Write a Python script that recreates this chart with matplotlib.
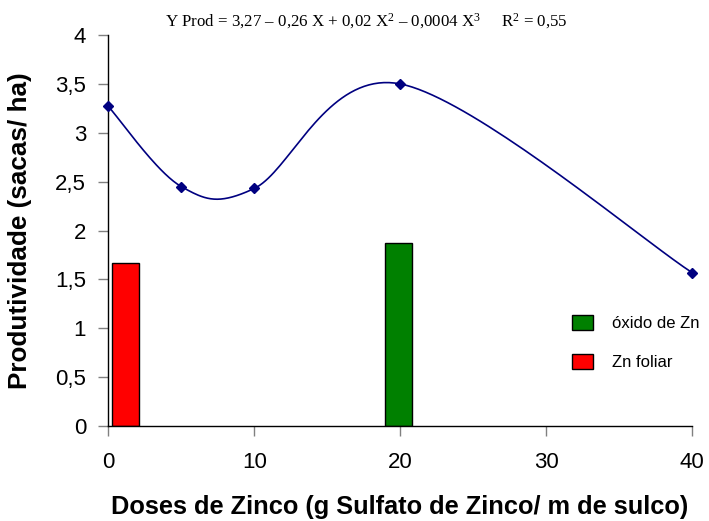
import numpy as np
import matplotlib as mpl
import matplotlib.pyplot as plt
from matplotlib.patches import Patch

# Data
doses = [0, 5, 10, 20, 40]
prod = [3.27, 2.45, 2.43, 3.5, 1.57]

bar_labels = ['óxido de Zn', 'Zn foliar']
bar_x = [19.9, 1.2]
bar_h = [1.87, 1.67]
bar_colors = ['#008000', '#ff0000']

xticks = [0, 10, 20, 30, 40]
yticks = [0, 0.5, 1, 1.5, 2, 2.5, 3, 3.5, 4]
ytick_labels = ['0', '0,5', '1', '1,5', '2', '2,5', '3', '3,5', '4']

equation = ('Y Prod = 3,27 \u2013 0,26 X + 0,02 X$^{2}$ '
            '\u2013 0,0004 X$^{3}$     R$^{2}$ = 0,55')

mpl.rcParams['font.family'] = ['Liberation Sans', 'DejaVu Sans']
mpl.rcParams['mathtext.fontset'] = 'custom'
mpl.rcParams['mathtext.rm'] = 'Liberation Serif'
mpl.rcParams['mathtext.it'] = 'Liberation Serif'


# Smoothed line like a spreadsheet chart (Bezier / Catmull-Rom in screen-like units)
def smooth(xs, ys, sx, sy, n=40):
    px = np.array(xs, float) * sx
    py = np.array(ys, float) * sy
    px = np.concatenate([[px[0]], px, [px[-1]]])
    py = np.concatenate([[py[0]], py, [py[-1]]])
    ox, oy = [], []
    for i in range(1, len(px) - 2):
        p0 = np.array([px[i - 1], py[i - 1]])
        p1 = np.array([px[i], py[i]])
        p2 = np.array([px[i + 1], py[i + 1]])
        p3 = np.array([px[i + 2], py[i + 2]])
        c1 = p1 + (p2 - p0) / 6
        c2 = p2 - (p3 - p1) / 6
        t = np.linspace(0, 1, n)[:, None]
        b = ((1 - t) ** 3) * p1 + 3 * ((1 - t) ** 2) * t * c1 + 3 * (1 - t) * t ** 2 * c2 + t ** 3 * p2
        ox.extend(b[:, 0])
        oy.extend(b[:, 1])
    return np.array(ox) / sx, np.array(oy) / sy


fig = plt.figure(figsize=(7.09, 5.21), dpi=100)
ax = fig.add_axes([0.1527, 0.1823, 0.8233, 0.7505])

# bars
for lab, x, h, c in zip(bar_labels, bar_x, bar_h, bar_colors):
    ax.bar(x, h, width=1.85, color=c, edgecolor='black', linewidth=1, zorder=2)

# smoothed curve with markers
cx, cy = smooth(doses, prod, 14.59, 97.75)
ax.plot(cx, cy, color='#000080', linewidth=1.2, zorder=3)
ax.plot(doses, prod, linestyle='none', marker='D', markersize=5.5,
        color='#000080', zorder=4, clip_on=False)

ax.set_xlim(0, 40)
ax.set_ylim(0, 4)
ax.set_xticks(xticks)
ax.set_xticklabels([str(v) for v in xticks])
ax.set_yticks(yticks)
ax.set_yticklabels(ytick_labels)
ax.tick_params(axis='both', labelsize=16, length=7, color='#808080', width=1)
ax.tick_params(axis='x', pad=12)
ax.tick_params(axis='y', pad=9)
for s in ['top', 'right']:
    ax.spines[s].set_visible(False)
for s in ['left', 'bottom']:
    ax.spines[s].set_linewidth(1)

ax.set_xlabel('Doses de Zinco (g Sulfato de Zinco/ m de sulco)',
              fontsize=18.3, fontweight='bold')
ax.xaxis.set_label_coords(0.5, -0.177)
ax.set_ylabel('Produtividade (sacas/ ha)', fontsize=18.8, fontweight='bold')
ax.yaxis.set_label_coords(-0.131, 0.5)

handles = [Patch(facecolor=c, edgecolor='black', label=l) for l, c in zip(bar_labels, bar_colors)]
ax.legend(handles=handles, loc='center left', bbox_to_anchor=(0.768, 0.214),
          frameon=False, fontsize=12, handlelength=1.3, handleheight=1.0,
          labelspacing=1.35, handletextpad=1.1)

fig.text(0.517, 0.96, equation, ha='center', va='center', fontsize=12.2,
         family=['Liberation Serif', 'DejaVu Serif'])

fig.savefig('out.png', dpi=100)
